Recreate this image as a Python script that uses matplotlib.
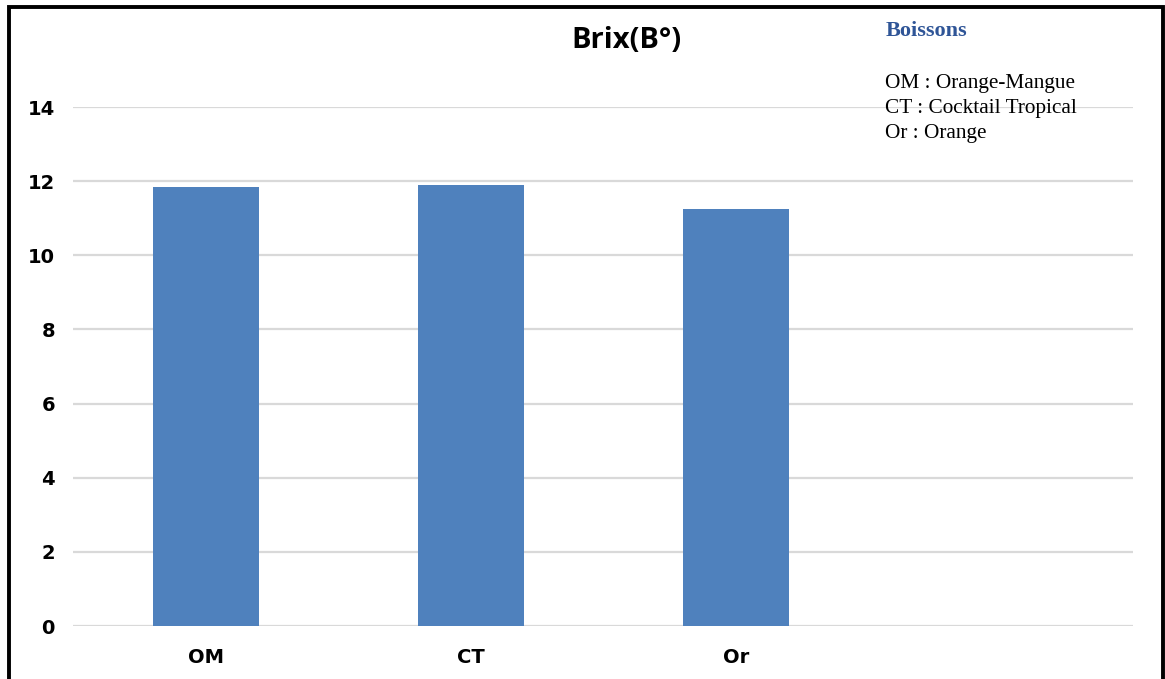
import matplotlib.pyplot as plt
from matplotlib.patches import Rectangle

# Données
boissons = ['OM', 'CT', 'Or', '']
brix = [11.85, 11.9, 11.25, 0]
yticks = [0, 2, 4, 6, 8, 10, 12, 14]
legende = ['OM : Orange-Mangue', 'CT : Cocktail Tropical', 'Or : Orange']

fig = plt.figure(figsize=(11.65, 6.79), dpi=100)
ax = fig.add_axes([0.0627, 0.078, 0.910, 0.7644])

x = range(len(boissons))
ax.bar(list(x)[:3], brix[:3], width=0.4, color='#4F81BD', zorder=3)
ax.set_xlim(-0.5, len(boissons) - 0.5)
ax.set_ylim(0, 14)
ax.set_yticks(yticks)
ax.set_xticks(list(x))
ax.set_xticklabels(boissons)

ax.grid(axis='y', color='#d9d9d9', linewidth=1.6, zorder=0)
for s in ax.spines.values():
    s.set_visible(False)
ax.tick_params(length=0)
ax.tick_params(axis='y', pad=13, labelsize=14)
ax.tick_params(axis='x', pad=16, labelsize=14)
for lab in ax.get_xticklabels() + ax.get_yticklabels():
    lab.set_fontweight('bold')

fig.text(0.538, 0.941, 'Brix(B°)', ha='center', va='center', fontsize=21,
         fontweight='bold', family='Open Sans')

# Légende texte
fig.text(0.760, 0.954, 'Boissons', ha='left', va='center', fontsize=16,
         fontweight='bold', color='#2F5597', family='Liberation Serif')
for i, t in enumerate(legende):
    fig.text(0.760, 0.877 - i * 0.0365, t, ha='left', va='center', fontsize=15.3,
             family='Liberation Serif')

# Cadre
fig.patches.append(Rectangle((0.0077, -0.05), 0.9906, 1.039, transform=fig.transFigure,
                             fill=False, edgecolor='black', linewidth=2.8))

fig.savefig('out.png', dpi=100)
